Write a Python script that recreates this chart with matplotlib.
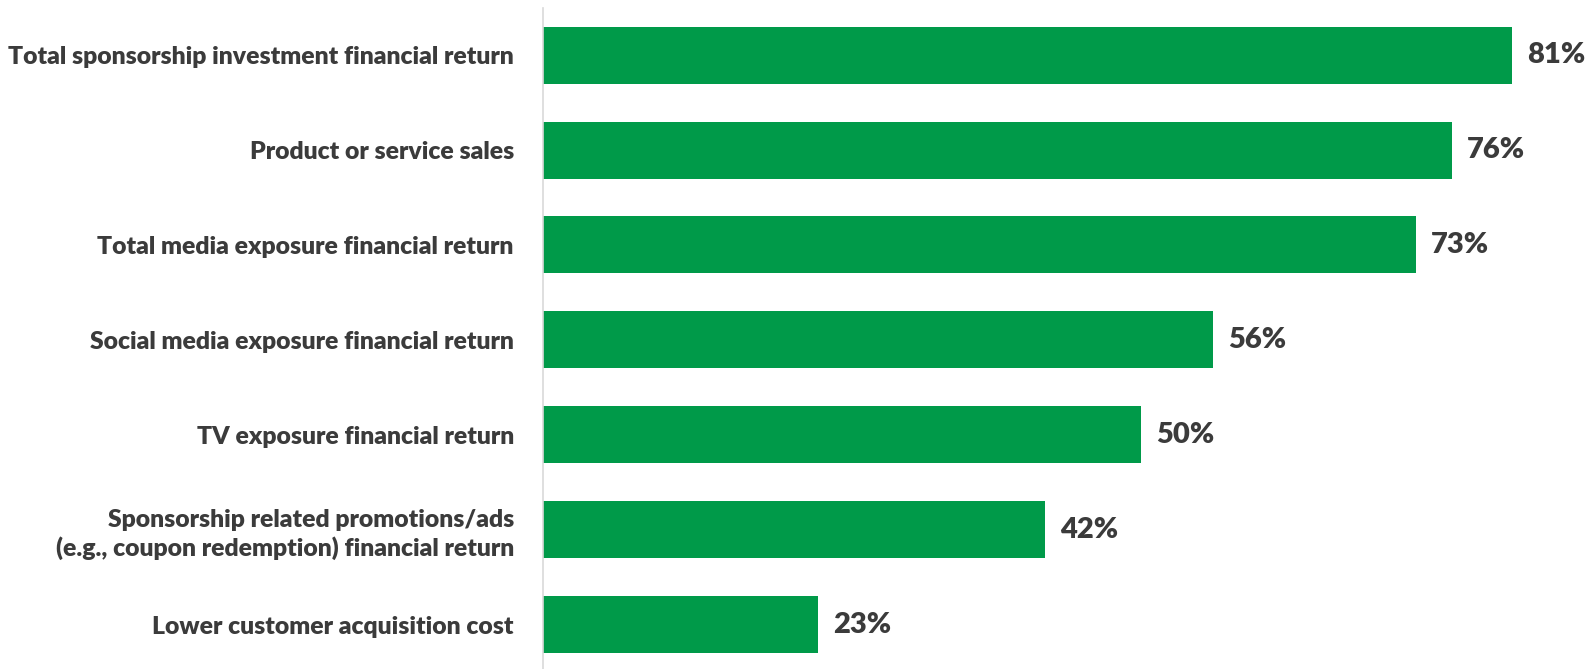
import matplotlib
matplotlib.use("Agg")
import matplotlib.pyplot as plt

# Share of respondents measuring each financial return metric
categories = [
    "Total sponsorship investment financial return",
    "Product or service sales",
    "Total media exposure financial return",
    "Social media exposure financial return",
    "TV exposure financial return",
    "Sponsorship related promotions/ads\n(e.g., coupon redemption) financial return",
    "Lower customer acquisition cost",
]
values = [81, 76, 73, 56, 50, 42, 23]

GREEN = "#009A49"
TEXT = "#3B3B3B"

plt.rcParams["font.family"] = ["Lato", "DejaVu Sans"]

W, H = 1587, 669
fig = plt.figure(figsize=(W / 100, H / 100), dpi=100)
left, top = 543, 7.7
ax = fig.add_axes([left / W, 0, (W - left) / W, (H - top) / H])

pos = list(range(len(categories)))
ax.barh(pos, values, height=0.6, color=GREEN)
ax.set_ylim(6.468, -0.5)
ax.set_xlim(0, (W - left) / 11.96)

for y, v in zip(pos, values):
    ax.annotate(f"{v}%", (v, y), xytext=(15, 0), textcoords="offset pixels",
                va="center", ha="left", fontsize=21, fontweight="heavy", color=TEXT)

ax.set_yticks(pos)
ax.set_yticklabels(categories, fontsize=17.8, fontweight="heavy", color=TEXT,
                   linespacing=1.3)
ax.tick_params(axis="y", length=0, pad=21)
ax.set_xticks([])

for s in ["top", "right", "bottom"]:
    ax.spines[s].set_visible(False)
ax.spines["left"].set_color("#D9D9D9")
ax.spines["left"].set_linewidth(1.2)

fig.savefig("out.png", dpi=100)
